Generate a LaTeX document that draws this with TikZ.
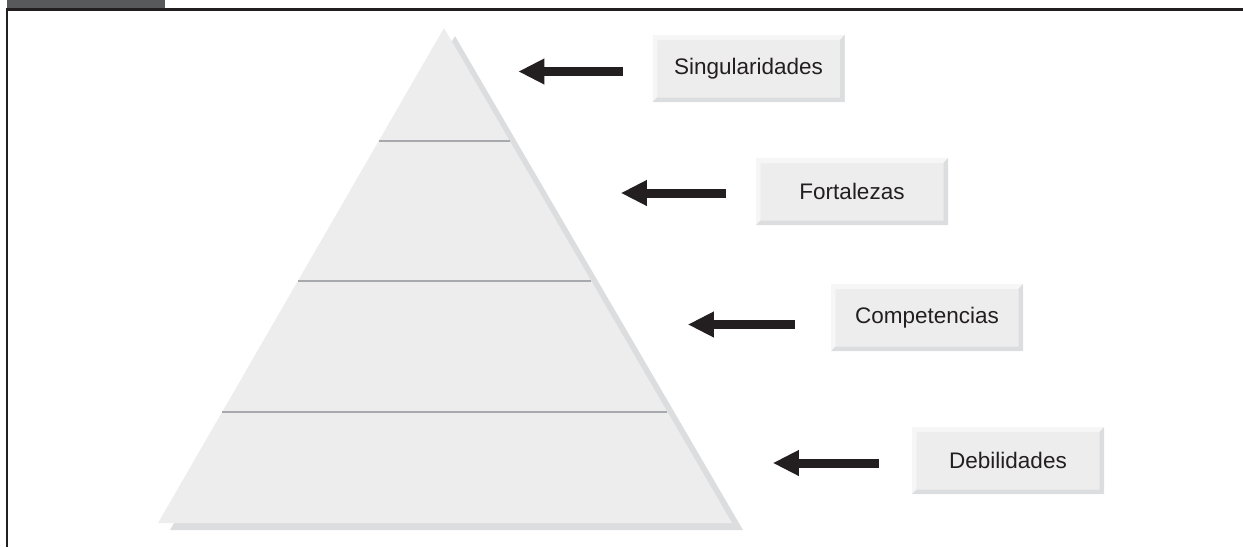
\documentclass[tikz,border=0pt]{standalone}
\usepackage{fontspec}
\setmainfont{Liberation Sans}
\usetikzlibrary{arrows.meta, calc}

\definecolor{ink}{HTML}{231F20}
\definecolor{headgray}{HTML}{58595B}
\definecolor{tabface}{HTML}{EDEDED}
\definecolor{tablight}{HTML}{F6F6F6}
\definecolor{tabdark}{HTML}{DCDDDF}
\definecolor{tierline}{HTML}{A7A9AC}

\begin{document}
\begin{tikzpicture}[
          x=1pt, y=-1pt,
          tab/.style={fill=tabface, text=ink, inner sep=0pt,
                      minimum width=192pt, minimum height=67pt,
                      font=\fontsize{22.5}{27}\selectfont,
                      path picture={
                        \fill[tablight] (path picture bounding box.south west)
                          -- (path picture bounding box.north west)
                          -- (path picture bounding box.north east)
                          -- ([xshift=-4.5pt, yshift=-5pt]path picture bounding box.north east)
                          -- ([xshift=4.5pt, yshift=-5pt]path picture bounding box.north west)
                          -- ([xshift=4.5pt, yshift=4.5pt]path picture bounding box.south west) -- cycle;
                        \fill[tabdark] (path picture bounding box.south west)
                          -- (path picture bounding box.south east)
                          -- (path picture bounding box.north east)
                          -- ([xshift=-4.5pt, yshift=-5pt]path picture bounding box.north east)
                          -- ([xshift=-4.5pt, yshift=4.5pt]path picture bounding box.south east)
                          -- ([xshift=4.5pt, yshift=4.5pt]path picture bounding box.south west) -- cycle;
                      }},
          tier/.style={draw=tierline, line width=2.7pt},
          arr/.style={-{Triangle[length=26pt, width=24pt]}, line width=9pt, ink}
        ]
        \useasboundingbox (0,0) rectangle (1243,547);

        % frame and header strip
        \fill[headgray] (7,0) rectangle (165,8.5);
        \draw[ink, line width=3pt] (6,9.5) -- (1243,9.5);
        \draw[ink, line width=2pt] (7,8) -- (7,547);

        % pyramid with its shadow
        \coordinate (apex) at (444,28);
        \coordinate (bl) at (158,523);
        \coordinate (br) at (732,523);
        \fill[tabdark] (455,36) -- (743,530) -- (170,530) -- cycle;
        \fill[tabface] (apex) -- (br) -- (bl) -- cycle;
        \draw[tier] ($(apex)!0.2283!(bl)$) -- ($(apex)!0.2283!(br)$);
        \draw[tier] ($(apex)!0.5111!(bl)$) -- ($(apex)!0.5111!(br)$);
        \draw[tier] ($(apex)!0.7758!(bl)$) -- ($(apex)!0.7758!(br)$);

        % labels
        \node[tab] (sing) at (748.5,68.5) {Singularidades};
        \node[tab] (fort) at (852,191.5) {Fortalezas};
        \node[tab] (comp) at (927,317.5) {Competencias};
        \node[tab] (deb) at (1008,460.5) {Debilidades};

        \draw[arr] ([xshift=-29pt, yshift=-3pt]sing.west) -- ++(-105,0);
        \draw[arr] ([xshift=-30pt, yshift=-1.5pt]fort.west) -- ++(-105,0);
        \draw[arr] ([xshift=-36pt, yshift=-7pt]comp.west) -- ++(-107,0);
        \draw[arr] ([xshift=-33pt, yshift=-2.5pt]deb.west) -- ++(-106,0);
      \end{tikzpicture}
\end{document}
